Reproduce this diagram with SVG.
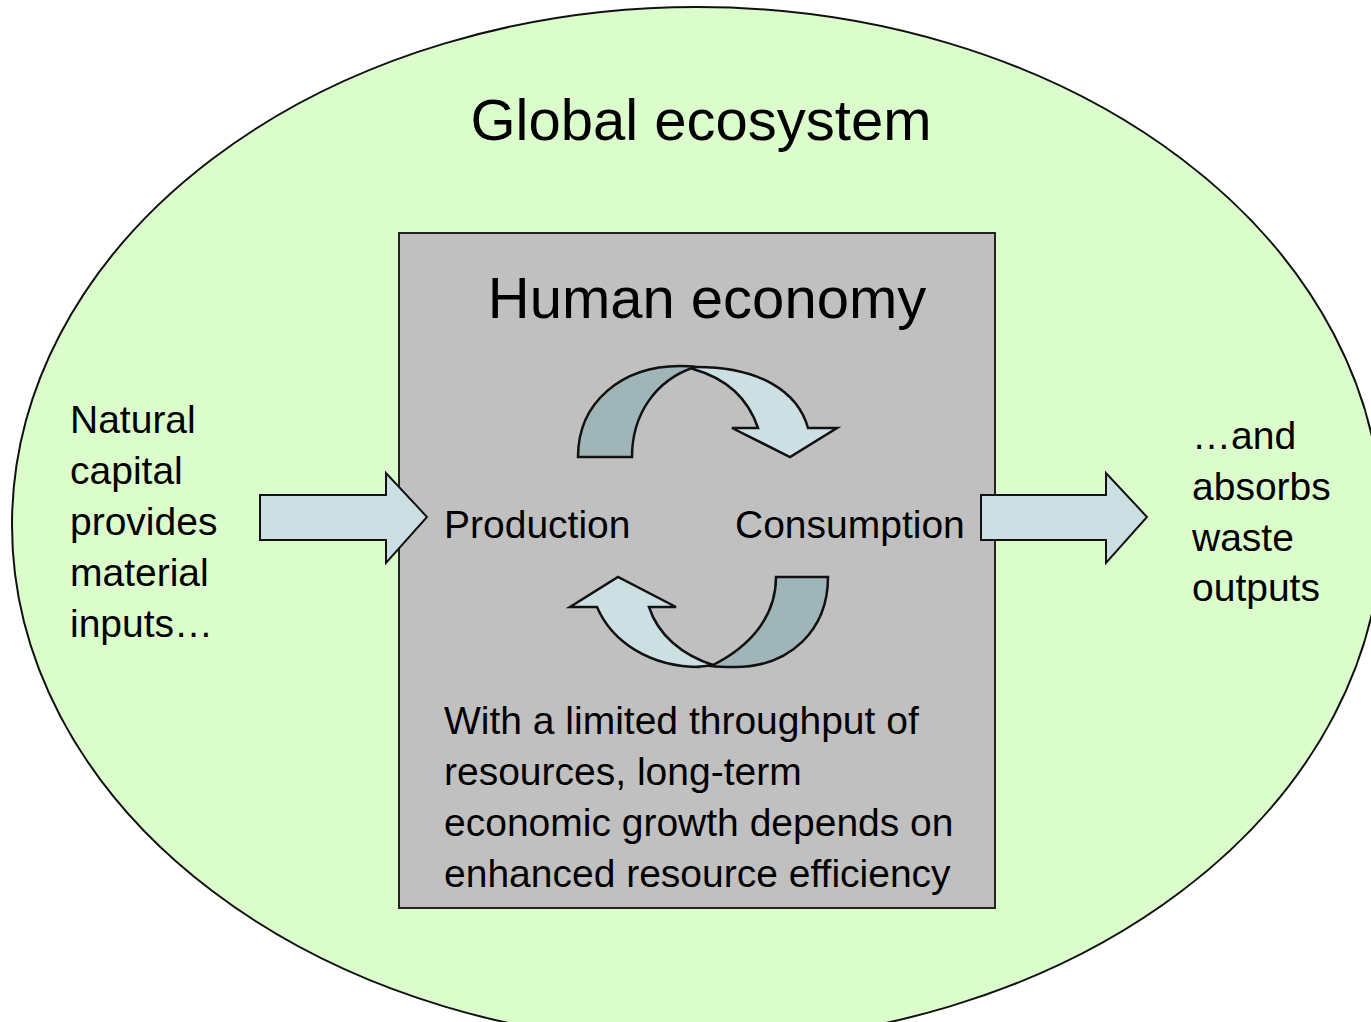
<svg xmlns="http://www.w3.org/2000/svg" width="1371" height="1022" viewBox="0 0 1371 1022">
<style>
text{font-family:"Liberation Sans",Arial,sans-serif;fill:#000}
.big{font-size:58px}
.mid{font-size:39px}
.block{fill:#cce0e4;stroke:#111;stroke-width:2;stroke-linejoin:miter}
.light{fill:#cce0e4;stroke:#111;stroke-width:2.5;stroke-linejoin:miter}
.dark{fill:#a0b5b8;stroke:#111;stroke-width:2.5;stroke-linejoin:miter}
</style>
<rect width="1371" height="1022" fill="#ffffff"/>
<g id="global-ecosystem">
<ellipse cx="697" cy="525" rx="685" ry="518" fill="#dbfdcc" stroke="#111" stroke-width="2"/>
<text class="big" x="701" y="140" text-anchor="middle">Global ecosystem</text>
</g>
<g id="human-economy">
<rect x="399" y="233" width="596" height="675" fill="#c0c0c0" stroke="#222" stroke-width="2"/>
<text class="big" x="707" y="318" text-anchor="middle">Human economy</text>
</g>
<g id="production"><text class="mid" x="444" y="538">Production</text></g>
<g id="consumption"><text class="mid" x="735" y="538">Consumption</text></g>
<g id="natural-capital">
<text class="mid" x="70" y="433">Natural</text>
<text class="mid" x="70" y="484">capital</text>
<text class="mid" x="70" y="535">provides</text>
<text class="mid" x="70" y="586">material</text>
<text class="mid" x="70" y="637">inputs…</text>
</g>
<g id="waste-outputs">
<text class="mid" x="1192" y="449">…and</text>
<text class="mid" x="1192" y="500">absorbs</text>
<text class="mid" x="1192" y="551">waste</text>
<text class="mid" x="1192" y="601">outputs</text>
</g>
<g id="note">
<text class="mid" x="444" y="734">With a limited throughput of</text>
<text class="mid" x="444" y="785">resources, long-term</text>
<text class="mid" x="444" y="836">economic growth depends on</text>
<text class="mid" x="444" y="887">enhanced resource efficiency</text>
</g>
<g id="connectors">
<path class="block" d="M260,495 L386,495 L386,473 L427,517 L386,563 L386,540 L260,540 Z"/>
<path class="block" d="M981,495 L1106,495 L1106,473 L1147,517 L1106,563 L1106,540 L981,540 Z"/>
<path class="light" d="M693,367 C760,366 798,392 808,428 L837,428 L790,457 L732,428 L758,428 C748,398 725,378 693,369 Z"/>
<path class="dark" d="M578,457 C578,402 622,366 680,366 C686,366 690,366 695,367 C655,380 632,415 632,457 Z"/>
<path class="light" d="M597,607 L570,607 L618,577 L676,607 L649,607 C658,635 682,655 713,665 C700,667 690,667 700,667 C650,667 612,642 597,607 Z"/>
<path class="dark" d="M828,577 C828,630 790,667 735,667 C725,667 718,667 711,666 C752,646 776,615 776,577 Z"/>
</g>
</svg>
